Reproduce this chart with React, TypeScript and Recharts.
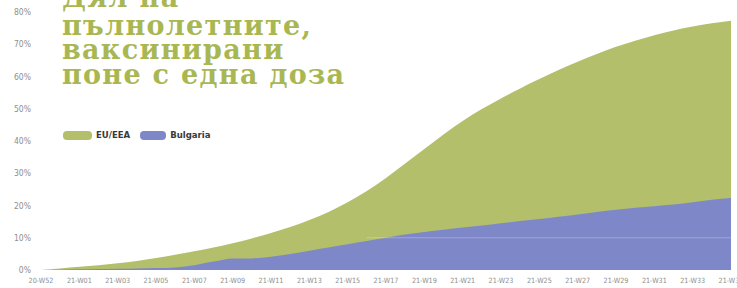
import React from 'react';
import { AreaChart, Area, XAxis, YAxis, ReferenceLine } from 'recharts';

const weeks = [
  '20-W52', '20-W53', '21-W01', '21-W02', '21-W03', '21-W04', '21-W05', '21-W06', '21-W07',
  '21-W08', '21-W09', '21-W10', '21-W11', '21-W12', '21-W13', '21-W14', '21-W15', '21-W16',
  '21-W17', '21-W18', '21-W19', '21-W20', '21-W21', '21-W22', '21-W23', '21-W24', '21-W25',
  '21-W26', '21-W27', '21-W28', '21-W29', '21-W30', '21-W31', '21-W32', '21-W33', '21-W34',
  '21-W35',
];

const euEea = [
  0, 0.5, 1.0, 1.5, 2.1, 2.8, 3.7, 4.7, 5.8,
  7.0, 8.3, 9.8, 11.5, 13.3, 15.5, 18.0, 21.0, 24.5,
  28.5, 33.0, 37.5, 42.0, 46.2, 49.9, 53.2, 56.3, 59.2,
  62.0, 64.6, 67.0, 69.2, 71.1, 72.8, 74.3, 75.5, 76.5,
  77.3,
];

const bulgaria = [
  0, 0.1, 0.2, 0.3, 0.4, 0.5, 0.6, 0.8, 1.5,
  2.6, 3.6, 3.6, 4.1, 5.0, 6.0, 7.0, 8.0, 9.0,
  10.0, 11.0, 11.8, 12.5, 13.2, 13.8, 14.5, 15.2, 15.8,
  16.5, 17.2, 18.0, 18.7, 19.3, 19.8, 20.3, 21.0, 21.8,
  22.3,
];

const yTicks = [0, 10, 20, 30, 40, 50, 60, 70, 80];

const titleLines = ['Дял на', 'пълнолетните,', 'ваксинирани', 'поне с една доза'];

const legendItems = [
  { key: 'eu', name: 'EU/EEA', color: '#b4bf6b', swatch: 29 },
  { key: 'bg', name: 'Bulgaria', color: '#7e88c8', swatch: 26 },
];

const GREEN = '#b4bf6b';
const BLUE = '#7e88c8';
const TITLE_GREEN = '#a9b753';
const AXIS_FONT = "'DejaVu Sans Condensed', 'Liberation Sans Narrow', 'Roboto Condensed', Roboto, sans-serif";

const data = weeks.map((w, i) => ({ week: w, eu: euEea[i], bg: bulgaria[i] }));

const YTick = (props: any) => {
  const { y, payload } = props;
  return (
    <text x={31} y={y} dy={3} textAnchor="end" fontSize={8.5} fill="#8e8e8e" fontFamily={AXIS_FONT}>
      {payload.value}%
    </text>
  );
};

const XTick = (props: any) => {
  const { x, y, payload } = props;
  return (
    <text x={x} y={y} dy={13} textAnchor="middle" fontSize={7.2} fill="#8e8e8e" fontFamily={AXIS_FONT}>
      {payload.value}
    </text>
  );
};

export default function App() {
  return (
    <div style={{ position: 'absolute', left: 0, top: 0, width: 737, height: 288, overflow: 'hidden', background: '#ffffff' }}>
      <AreaChart width={737} height={288} data={data} margin={{ top: 12, right: 6, left: 0, bottom: 0 }}>
        <XAxis
          dataKey="week"
          interval={1}
          tickLine={false}
          axisLine={false}
          tickSize={0}
          tickMargin={0}
          height={18}
          tick={<XTick />}
        />
        <YAxis
          domain={[0, 80]}
          ticks={yTicks}
          tickLine={false}
          axisLine={false}
          tickSize={0}
          width={41}
          tick={<YTick />}
        />
        <Area
          type="monotone"
          dataKey="eu"
          name="EU/EEA"
          fill={GREEN}
          fillOpacity={1}
          stroke="none"
          isAnimationActive={false}
        />
        <Area
          type="monotone"
          dataKey="bg"
          name="Bulgaria"
          fill={BLUE}
          fillOpacity={1}
          stroke="none"
          isAnimationActive={false}
        />
        <ReferenceLine
          segment={[{ x: '21-W16', y: 10 }, { x: '21-W35', y: 10 }]}
          stroke="#ffffff"
          strokeOpacity={0.25}
          strokeWidth={1}
        />
      </AreaChart>
      <div
        style={{
          position: 'absolute',
          left: 63,
          top: 130,
          display: 'flex',
          alignItems: 'center',
          fontFamily: AXIS_FONT,
        }}
      >
        {legendItems.map((p) => (
          <div key={p.key} style={{ display: 'flex', alignItems: 'center', marginRight: 10 }}>
            <div
              style={{ width: p.swatch, height: 9, borderRadius: 4, background: p.color, marginRight: 4 }}
            />
            <span style={{ fontSize: 9.5, fontWeight: 700, color: '#3a3a3a', lineHeight: '10px' }}>{p.name}</span>
          </div>
        ))}
      </div>
      <div
        lang="bg"
        style={{
          position: 'absolute',
          left: 62,
          top: 0,
          fontFamily: "'DejaVu Serif', serif",
          fontWeight: 700,
          fontSize: 27,
          letterSpacing: 1.3,
          color: TITLE_GREEN,
          pointerEvents: 'none',
        }}
      >
        {titleLines.map((line, i) => (
          <div
            key={i}
            style={{
              position: 'absolute',
              left: 0,
              top: (i === 0 ? -17 : -14) + i * 24.5,
              whiteSpace: 'nowrap',
              lineHeight: '30px',
            }}
          >
            {line}
          </div>
        ))}
      </div>
    </div>
  );
}
